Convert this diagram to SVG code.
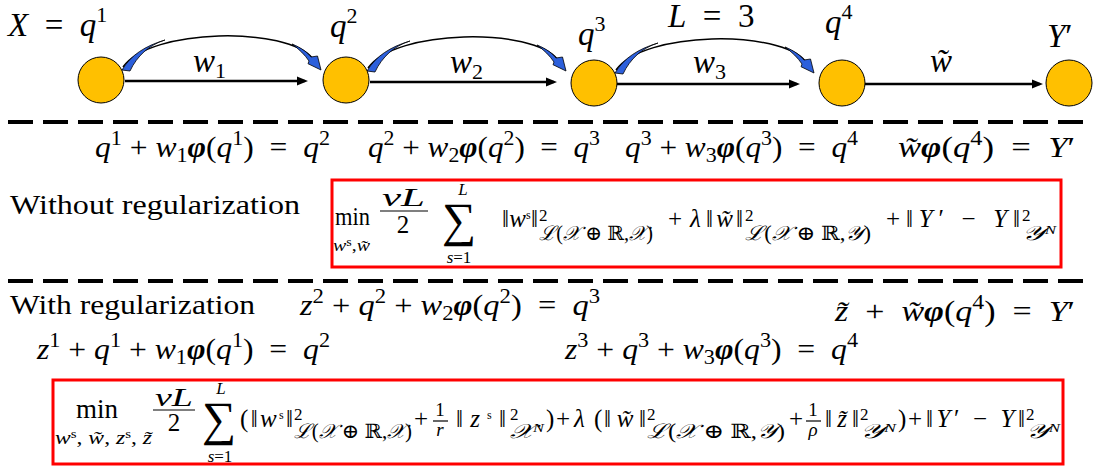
<svg xmlns="http://www.w3.org/2000/svg" width="1105" height="469" viewBox="0 0 1105 469">
<defs>
<style>
.t{font-family:'Liberation Serif','DejaVu Serif',serif;fill:#000}
.i{font-style:italic}
.bi{font-style:italic;font-weight:bold}
.lbl{font-size:33px}
.lsp{font-size:22px}
.eq{font-size:30px}
.sp{font-size:21px}
.bx{font-size:25px}
.sm{font-size:17px}
.sb{font-size:20px}
.xs{font-size:12px}
.node{fill:#FFC000;stroke:#000;stroke-width:1}
.arr{stroke:#000;stroke-width:2.5;fill:none;marker-end:url(#ah)}
.arc{stroke:#000;stroke-width:1.5;fill:none}
.blue{fill:#2C5FDB;stroke:#000;stroke-width:0.8}
.dash{stroke:#000;stroke-width:4;stroke-dasharray:25 10}
.box{fill:none;stroke:#FF0000;stroke-width:3}
.bar{stroke:#000;stroke-width:1.2}
</style>
<marker id="ah" viewBox="0 0 10 10" refX="7" refY="5" markerWidth="4.5" markerHeight="4.5" orient="auto" markerUnits="strokeWidth"><path d="M0,1 L10,5 L0,9 Z" fill="#000"/></marker>
<g id="curved">
<path class="arc" d="M123,67 C150,28 288,26 313,59"/>
<path class="blue" d="M122,70 C131,55 145,46 165,40 C149,45 137,56 130,71 Z"/>
<path class="blue" d="M292,44 C302,48 308,53 311,57 L317.5,56 L321,70 L308,63.7 L309,61 C305,55 299,49 292,44 Z"/>
</g>
</defs>
<rect width="1105" height="469" fill="#fff"/>

<g id="connectors">
<path class="arr" d="M125,81 L304.6,81"/>
<path class="arr" d="M370,82 L553.6,82"/>
<path class="arr" d="M617,84 L796.6,84"/>
<path class="arr" d="M865,84 L1039.6,84"/>
<use href="#curved"/>
<use href="#curved" transform="translate(245,1)"/>
<use href="#curved" transform="translate(493,3)"/>
</g>

<g id="node-q1"><circle class="node" cx="101" cy="80" r="23"/></g>
<g id="node-q2"><circle class="node" cx="346" cy="80" r="23"/></g>
<g id="node-q3"><circle class="node" cx="594" cy="83" r="23"/></g>
<g id="node-q4"><circle class="node" cx="842" cy="83" r="23"/></g>
<g id="node-Y"><circle class="node" cx="1069" cy="83" r="23"/></g>

<g id="top-labels">
<text class="t lbl" x="8" y="36"><tspan class="i">X</tspan>&#160;&#160;=&#160;&#160;<tspan class="i">q</tspan><tspan class="lsp" dy="-14">1</tspan></text>
<text class="t lbl" x="330" y="37"><tspan class="i">q</tspan><tspan class="lsp" dy="-14">2</tspan></text>
<text class="t lbl" x="578" y="45"><tspan class="i">q</tspan><tspan class="lsp" dy="-14">3</tspan></text>
<text class="t lbl" x="668" y="27"><tspan class="i">L</tspan>&#160;&#160;=&#160;&#160;3</text>
<text class="t lbl" x="825" y="33"><tspan class="i">q</tspan><tspan class="lsp" dy="-14">4</tspan></text>
<text class="t lbl" x="1047" y="47"><tspan class="i">Y</tspan>′</text>
<text class="t lbl" x="193" y="72"><tspan class="i">w</tspan><tspan class="lsp" dy="6">1</tspan></text>
<text class="t lbl" x="450" y="73"><tspan class="i">w</tspan><tspan class="lsp" dy="6">2</tspan></text>
<text class="t lbl" x="693" y="73"><tspan class="i">w</tspan><tspan class="lsp" dy="6">3</tspan></text>
<text class="t lbl i" x="930" y="72">w&#771;</text>
</g>

<line class="dash" x1="8" y1="122" x2="1092" y2="122"/>
<line class="dash" x1="8" y1="281" x2="1092" y2="281"/>

<g id="eq-row1">
<text class="t eq" x="95" y="157" textLength="235" lengthAdjust="spacingAndGlyphs"><tspan class="i">q</tspan><tspan class="sp" dy="-12">1</tspan><tspan dy="12"> + </tspan><tspan class="i">w</tspan><tspan class="sp" dy="5">1</tspan><tspan class="bi" dy="-5">φ</tspan>(<tspan class="i">q</tspan><tspan class="sp" dy="-12">1</tspan><tspan dy="12">) &#160;=&#160; </tspan><tspan class="i">q</tspan><tspan class="sp" dy="-12">2</tspan></text>
<text class="t eq" x="368" y="157" textLength="232" lengthAdjust="spacingAndGlyphs"><tspan class="i">q</tspan><tspan class="sp" dy="-12">2</tspan><tspan dy="12"> + </tspan><tspan class="i">w</tspan><tspan class="sp" dy="5">2</tspan><tspan class="bi" dy="-5">φ</tspan>(<tspan class="i">q</tspan><tspan class="sp" dy="-12">2</tspan><tspan dy="12">) &#160;=&#160; </tspan><tspan class="i">q</tspan><tspan class="sp" dy="-12">3</tspan></text>
<text class="t eq" x="625" y="157" textLength="233" lengthAdjust="spacingAndGlyphs"><tspan class="i">q</tspan><tspan class="sp" dy="-12">3</tspan><tspan dy="12"> + </tspan><tspan class="i">w</tspan><tspan class="sp" dy="5">3</tspan><tspan class="bi" dy="-5">φ</tspan>(<tspan class="i">q</tspan><tspan class="sp" dy="-12">3</tspan><tspan dy="12">) &#160;=&#160; </tspan><tspan class="i">q</tspan><tspan class="sp" dy="-12">4</tspan></text>
<text class="t eq" x="898" y="157" textLength="177" lengthAdjust="spacingAndGlyphs"><tspan class="i">w&#771;</tspan><tspan class="bi">φ</tspan>(<tspan class="i">q</tspan><tspan class="sp" dy="-12">4</tspan><tspan dy="12">) &#160;=&#160; </tspan><tspan class="i">Y</tspan>′</text>
</g>

<text class="t" x="10" y="214" font-size="27" textLength="290" lengthAdjust="spacingAndGlyphs">Without regularization</text>

<g id="box-without">
<rect class="box" x="332" y="180" width="729" height="87"/>
<text class="t bx" x="335" y="225" textLength="35" lengthAdjust="spacingAndGlyphs">min</text>
<text class="t sm" x="333" y="251" textLength="37" lengthAdjust="spacingAndGlyphs"><tspan class="i">w</tspan><tspan class="xs" dy="-5">s</tspan><tspan dy="5">,</tspan><tspan class="i">w&#771;</tspan></text>
<text class="t bx i" x="382" y="206" textLength="43" lengthAdjust="spacingAndGlyphs">νL</text>
<line class="bar" x1="380" y1="211" x2="428" y2="211"/>
<text class="t bx" x="403" y="233" text-anchor="middle">2</text>
<text class="t sm i" x="463" y="195" text-anchor="middle">L</text>
<text class="t" x="459" y="236" font-size="48" text-anchor="middle">∑</text>
<text class="t sm" x="459" y="263" text-anchor="middle"><tspan class="i">s</tspan>=1</text>
<text class="t bx" x="502" y="227" textLength="36">‖<tspan class="i">w</tspan><tspan class="xs" dy="-8">s</tspan><tspan dy="8">‖</tspan></text>
<text class="t sm" x="539" y="221">2</text>
<text class="t sb" x="539" y="240" textLength="114" lengthAdjust="spacingAndGlyphs"><tspan class="i">ℒ</tspan>(<tspan class="i">𝒳</tspan> ⊕ ℝ,<tspan class="i">𝒳</tspan>)</text>
<text class="t bx" x="675" y="227" text-anchor="middle">+</text>
<text class="t bx i" x="690" y="227">λ</text>
<text class="t bx" x="706" y="227" textLength="37">‖<tspan class="i">w&#771;</tspan>‖</text>
<text class="t sm" x="745" y="221">2</text>
<text class="t sb" x="745" y="240" textLength="126" lengthAdjust="spacingAndGlyphs"><tspan class="i">ℒ</tspan>(<tspan class="i">𝒳</tspan> ⊕ ℝ,<tspan class="i">𝒴</tspan>)</text>
<text class="t bx" x="893" y="227" text-anchor="middle">+</text>
<text class="t bx" x="906" y="227" textLength="114">‖<tspan class="i">Y</tspan>′&#160;−&#160;<tspan class="i">Y</tspan>‖</text>
<text class="t sm" x="1022" y="221">2</text>
<text class="t sb" x="1022" y="240" textLength="34" lengthAdjust="spacingAndGlyphs"><tspan class="i">𝒴</tspan><tspan class="xs i" dy="-6">N</tspan></text>
</g>

<g id="eq-reg">
<text class="t" x="10" y="314" font-size="27" textLength="245" lengthAdjust="spacingAndGlyphs">With regularization</text>
<text class="t eq" x="300" y="315" textLength="300" lengthAdjust="spacingAndGlyphs"><tspan class="i">z</tspan><tspan class="sp" dy="-12">2</tspan><tspan dy="12"> + </tspan><tspan class="i">q</tspan><tspan class="sp" dy="-12">2</tspan><tspan dy="12"> + </tspan><tspan class="i">w</tspan><tspan class="sp" dy="5">2</tspan><tspan class="bi" dy="-5">φ</tspan>(<tspan class="i">q</tspan><tspan class="sp" dy="-12">2</tspan><tspan dy="12">) &#160;=&#160; </tspan><tspan class="i">q</tspan><tspan class="sp" dy="-12">3</tspan></text>
<text class="t eq" x="835" y="321" textLength="240" lengthAdjust="spacingAndGlyphs"><tspan class="i">z&#771;</tspan> &#160;+&#160; <tspan class="i">w&#771;</tspan><tspan class="bi">φ</tspan>(<tspan class="i">q</tspan><tspan class="sp" dy="-12">4</tspan><tspan dy="12">) &#160;=&#160; </tspan><tspan class="i">Y</tspan>′</text>
<text class="t eq" x="37" y="359" textLength="293" lengthAdjust="spacingAndGlyphs"><tspan class="i">z</tspan><tspan class="sp" dy="-12">1</tspan><tspan dy="12"> + </tspan><tspan class="i">q</tspan><tspan class="sp" dy="-12">1</tspan><tspan dy="12"> + </tspan><tspan class="i">w</tspan><tspan class="sp" dy="5">1</tspan><tspan class="bi" dy="-5">φ</tspan>(<tspan class="i">q</tspan><tspan class="sp" dy="-12">1</tspan><tspan dy="12">) &#160;=&#160; </tspan><tspan class="i">q</tspan><tspan class="sp" dy="-12">2</tspan></text>
<text class="t eq" x="565" y="359" textLength="293" lengthAdjust="spacingAndGlyphs"><tspan class="i">z</tspan><tspan class="sp" dy="-12">3</tspan><tspan dy="12"> + </tspan><tspan class="i">q</tspan><tspan class="sp" dy="-12">3</tspan><tspan dy="12"> + </tspan><tspan class="i">w</tspan><tspan class="sp" dy="5">3</tspan><tspan class="bi" dy="-5">φ</tspan>(<tspan class="i">q</tspan><tspan class="sp" dy="-12">3</tspan><tspan dy="12">) &#160;=&#160; </tspan><tspan class="i">q</tspan><tspan class="sp" dy="-12">4</tspan></text>
</g>

<g id="box-with">
<rect class="box" x="53" y="380" width="1010" height="84"/>
<text class="t" x="76" y="418" font-size="27" textLength="42" lengthAdjust="spacingAndGlyphs">min</text>
<text class="t" x="55" y="444" font-size="19" textLength="97" lengthAdjust="spacingAndGlyphs"><tspan class="i">w</tspan><tspan class="xs" dy="-6">s</tspan><tspan dy="6">, </tspan><tspan class="i">w&#771;</tspan>, <tspan class="i">z</tspan><tspan class="xs" dy="-6">s</tspan><tspan dy="6">, </tspan><tspan class="i">z&#771;</tspan></text>
<text class="t bx i" x="155" y="406" textLength="38" lengthAdjust="spacingAndGlyphs">νL</text>
<line class="bar" x1="153" y1="410" x2="195" y2="410"/>
<text class="t bx" x="174" y="431" text-anchor="middle">2</text>
<text class="t sm i" x="221" y="394" text-anchor="middle">L</text>
<text class="t" x="219" y="435" font-size="48" text-anchor="middle">∑</text>
<text class="t sm" x="220" y="462" text-anchor="middle"><tspan class="i">s</tspan>=1</text>
<text class="t bx" x="240" y="427" textLength="53">(‖<tspan class="i">w</tspan><tspan class="xs" dy="-8">s</tspan><tspan dy="8">‖</tspan></text>
<text class="t sm" x="294" y="420">2</text>
<text class="t sb" x="294" y="438" textLength="118" lengthAdjust="spacingAndGlyphs"><tspan class="i">ℒ</tspan>(<tspan class="i">𝒳</tspan> ⊕ ℝ,<tspan class="i">𝒳</tspan>)</text>
<text class="t bx" x="421" y="427" text-anchor="middle">+</text>
<text class="t" x="440" y="416" font-size="19" text-anchor="middle">1</text>
<line class="bar" x1="433" y1="421" x2="448" y2="421"/>
<text class="t i" x="440" y="436" font-size="19" text-anchor="middle">r</text>
<text class="t bx" x="456" y="427" textLength="50">‖<tspan class="i">z</tspan><tspan class="xs" dy="-8">s</tspan><tspan dy="8">‖</tspan></text>
<text class="t sm" x="510" y="420">2</text>
<text class="t sb" x="510" y="438" textLength="34" lengthAdjust="spacingAndGlyphs"><tspan class="i">𝒳</tspan><tspan class="xs i" dy="-6">N</tspan></text>
<text class="t bx" x="546" y="427">)</text>
<text class="t bx" x="563" y="427" text-anchor="middle">+</text>
<text class="t bx i" x="574" y="427">λ</text>
<text class="t bx" x="594" y="427">(</text>
<text class="t bx" x="604" y="427" textLength="42">‖<tspan class="i">w&#771;</tspan>‖</text>
<text class="t sm" x="647" y="420">2</text>
<text class="t sb" x="647" y="438" textLength="138" lengthAdjust="spacingAndGlyphs"><tspan class="i">ℒ</tspan>(<tspan class="i">𝒳</tspan> ⊕ ℝ,<tspan class="i">𝒴</tspan>)</text>
<text class="t bx" x="796" y="427" text-anchor="middle">+</text>
<text class="t" x="813" y="416" font-size="19" text-anchor="middle">1</text>
<line class="bar" x1="806" y1="421" x2="821" y2="421"/>
<text class="t i" x="813" y="436" font-size="19" text-anchor="middle">ρ</text>
<text class="t bx" x="825" y="427" textLength="34">‖<tspan class="i">z&#771;</tspan>‖</text>
<text class="t sm" x="860" y="420">2</text>
<text class="t sb" x="860" y="438" textLength="36" lengthAdjust="spacingAndGlyphs"><tspan class="i">𝒴</tspan><tspan class="xs i" dy="-6">N</tspan></text>
<text class="t bx" x="898" y="427">)</text>
<text class="t bx" x="915" y="427" text-anchor="middle">+</text>
<text class="t bx" x="926" y="427" textLength="99">‖<tspan class="i">Y</tspan>′&#160;−&#160;<tspan class="i">Y</tspan>‖</text>
<text class="t sm" x="1026" y="420">2</text>
<text class="t sb" x="1026" y="438" textLength="34" lengthAdjust="spacingAndGlyphs"><tspan class="i">𝒴</tspan><tspan class="xs i" dy="-6">N</tspan></text>
</g>
</svg>
